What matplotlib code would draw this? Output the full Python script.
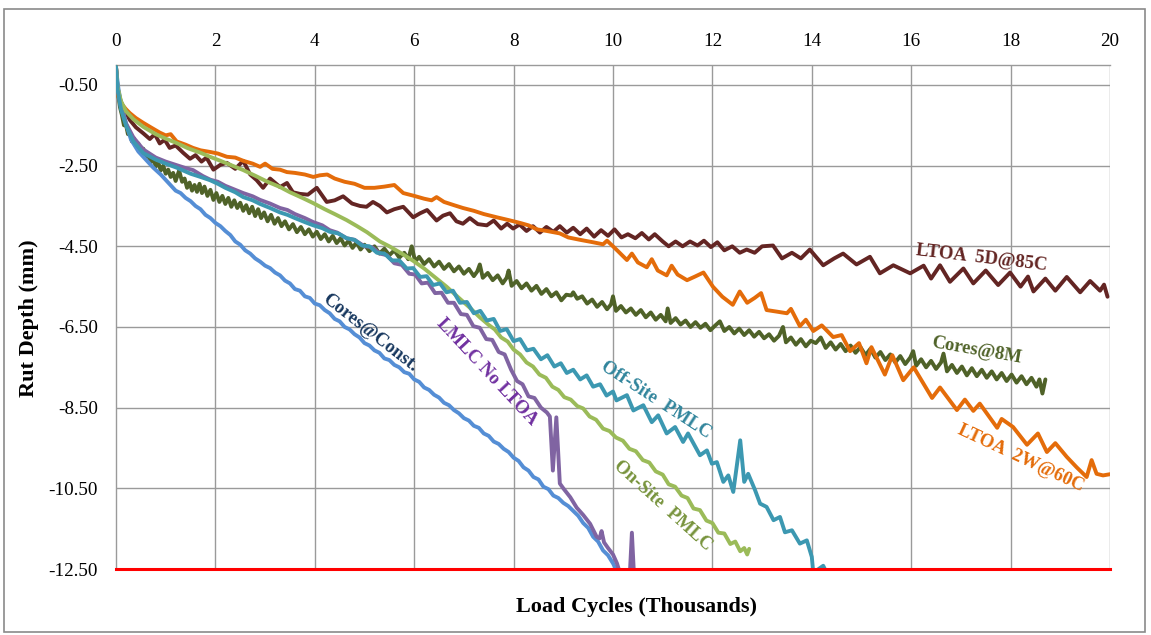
import matplotlib
matplotlib.use("Agg")
import matplotlib.pyplot as plt
from matplotlib.patches import Rectangle

# ---- data: rut depth (mm) vs load cycles (thousands) ----
ltoa_5d_85c = [(0, -0.05), (0.03, -0.55), (0.08, -0.85), (0.15, -1.08), (0.28, -1.37), (0.4, -1.55),
               (0.55, -1.7), (0.68, -1.84), (0.78, -1.72), (0.88, -1.95), (0.98, -1.86), (1.08, -2.06),
               (1.2, -2.0), (1.35, -2.18), (1.49, -2.33), (1.6, -2.24), (1.72, -2.4), (1.82, -2.3),
               (1.96, -2.6), (2.1, -2.48), (2.23, -2.43), (2.4, -2.58), (2.56, -2.38), (2.7, -2.72),
               (2.83, -2.86), (2.96, -3.05), (3.1, -2.82), (3.3, -3.03), (3.44, -2.93), (3.56, -3.16),
               (3.7, -3.2), (3.86, -3.22), (4.04, -3.05), (4.24, -3.4), (4.4, -3.36), (4.57, -3.26),
               (4.75, -3.44), (4.91, -3.5), (5.04, -3.52), (5.17, -3.4), (5.31, -3.5), (5.45, -3.66),
               (5.6, -3.58), (5.78, -3.52), (5.98, -3.78), (6.12, -3.68), (6.26, -3.6), (6.45, -3.86),
               (6.58, -3.74), (6.72, -3.68), (6.85, -3.88), (6.98, -3.94), (7.12, -3.8), (7.28, -3.95),
               (7.46, -3.98), (7.6, -3.86), (7.75, -4.06), (7.87, -3.94), (7.99, -4.06), (8.12, -3.96),
               (8.26, -4.12), (8.39, -4.0), (8.53, -4.16), (8.66, -4.02), (8.8, -4.14), (8.93, -4.0),
               (9.07, -4.16), (9.2, -4.04), (9.34, -4.2), (9.47, -4.06), (9.62, -4.26), (9.76, -4.1),
               (9.9, -4.24), (10.03, -4.08), (10.17, -4.28), (10.3, -4.2), (10.45, -4.3), (10.58, -4.17),
               (10.72, -4.33), (10.84, -4.2), (11.0, -4.38), (11.12, -4.5), (11.26, -4.38), (11.4, -4.5),
               (11.55, -4.38), (11.7, -4.48), (11.83, -4.36), (11.97, -4.52), (12.1, -4.4), (12.24, -4.6),
               (12.4, -4.5), (12.55, -4.66), (12.69, -4.58), (12.85, -4.66), (13.0, -4.5), (13.22, -4.48),
               (13.4, -4.8), (13.6, -4.66), (13.78, -4.8), (13.96, -4.58), (14.23, -4.97), (14.45, -4.8),
               (14.63, -4.68), (14.9, -4.95), (15.17, -4.76), (15.37, -5.17), (15.64, -4.97), (15.98, -5.17),
               (16.25, -4.98), (16.4, -5.3), (16.58, -4.97), (16.78, -5.38), (17.05, -5.05), (17.25, -5.42),
               (17.5, -5.1), (17.75, -5.46), (17.99, -5.15), (18.2, -5.5), (18.35, -5.25), (18.46, -5.62),
               (18.7, -5.3), (18.9, -5.6), (19.13, -5.26), (19.4, -5.64), (19.6, -5.36), (19.8, -5.6),
               (19.88, -5.45), (19.95, -5.75)]

ltoa_2w_60c = [(0, -0.05), (0.02, -0.7), (0.1, -0.95), (0.2, -1.1), (0.28, -1.2), (0.4, -1.32),
               (0.55, -1.44), (0.7, -1.55), (0.88, -1.68), (1.0, -1.75), (1.1, -1.72), (1.22, -1.9),
               (1.4, -1.98), (1.55, -2.06), (1.7, -2.12), (1.89, -2.16), (2.05, -2.2), (2.23, -2.28),
               (2.4, -2.3), (2.56, -2.38), (2.75, -2.45), (2.9, -2.53), (3.0, -2.45), (3.15, -2.58),
               (3.3, -2.6), (3.44, -2.66), (3.6, -2.68), (3.8, -2.72), (3.97, -2.78), (4.1, -2.74),
               (4.25, -2.72), (4.4, -2.82), (4.6, -2.9), (4.8, -2.95), (5.0, -3.05), (5.2, -3.05),
               (5.4, -3.02), (5.6, -2.98), (5.78, -3.18), (6.0, -3.25), (6.2, -3.32), (6.35, -3.36),
               (6.45, -3.28), (6.6, -3.4), (6.8, -3.48), (6.98, -3.55), (7.2, -3.62), (7.4, -3.7),
               (7.66, -3.78), (7.9, -3.85), (8.13, -3.92), (8.3, -3.98), (8.47, -4.08), (8.67, -4.12),
               (8.93, -4.18), (9.1, -4.28), (9.34, -4.34), (9.6, -4.4), (9.8, -4.45), (9.88, -4.36),
               (10.0, -4.5), (10.1, -4.62), (10.28, -4.84), (10.38, -4.68), (10.5, -4.9), (10.68, -5.02),
               (10.78, -4.82), (10.9, -5.1), (11.08, -5.22), (11.18, -4.98), (11.3, -5.2), (11.49, -5.34),
               (11.65, -5.25), (11.82, -5.15), (12.01, -5.5), (12.2, -5.75), (12.41, -5.95), (12.55, -5.62),
               (12.7, -5.9), (12.85, -5.78), (12.98, -5.66), (13.09, -6.08), (13.3, -6.12), (13.5, -6.16),
               (13.58, -6.05), (13.76, -6.48), (13.88, -6.32), (14.03, -6.6), (14.2, -6.46), (14.43, -6.75),
               (14.6, -6.7), (14.77, -7.1), (14.95, -6.9), (15.1, -7.4), (15.2, -7.0), (15.47, -7.68),
               (15.62, -7.2), (15.84, -7.82), (16.05, -7.5), (16.42, -8.26), (16.58, -8.0), (16.92, -8.56),
               (17.08, -8.3), (17.25, -8.58), (17.38, -8.4), (17.73, -9.0), (17.82, -8.78), (18.05, -8.98),
               (18.33, -9.42), (18.55, -9.14), (18.73, -9.6), (18.9, -9.38), (19.13, -9.72), (19.33, -9.98),
               (19.53, -10.22), (19.63, -9.8), (19.73, -10.14), (19.86, -10.18), (20.0, -10.15)]

cores_8m = [(0.0, -0.05), (0.03, -0.6), (0.08, -1.05), (0.12, -1.25), (0.16, -1.5), (0.2, -1.48),
            (0.24, -1.72), (0.28, -1.68), (0.32, -1.9), (0.36, -1.82), (0.4, -2.02), (0.45, -1.95),
            (0.5, -2.18), (0.55, -2.08), (0.6, -2.3), (0.65, -2.2), (0.7, -2.42), (0.75, -2.32),
            (0.8, -2.52), (0.85, -2.42), (0.9, -2.62), (0.95, -2.5), (1.0, -2.7), (1.05, -2.6),
            (1.1, -2.78), (1.15, -2.68), (1.2, -2.88), (1.27, -2.62), (1.33, -2.9), (1.38, -2.82),
            (1.43, -3.05), (1.48, -2.92), (1.53, -3.12), (1.58, -2.98), (1.63, -3.15), (1.68, -2.95),
            (1.73, -3.18), (1.78, -3.02), (1.84, -3.25), (1.9, -3.1), (1.96, -3.35), (2.02, -3.18),
            (2.08, -3.4), (2.14, -3.25), (2.2, -3.45), (2.26, -3.3), (2.32, -3.52), (2.38, -3.36),
            (2.44, -3.55), (2.5, -3.42), (2.56, -3.62), (2.62, -3.48), (2.68, -3.68), (2.74, -3.52),
            (2.8, -3.75), (2.86, -3.58), (2.92, -3.8), (2.98, -3.66), (3.05, -3.88), (3.12, -3.72),
            (3.19, -3.94), (3.26, -3.8), (3.33, -4.0), (3.4, -3.88), (3.48, -4.08), (3.56, -3.95),
            (3.64, -4.15), (3.72, -4.02), (3.8, -4.2), (3.88, -4.08), (3.96, -4.26), (4.04, -4.14),
            (4.12, -4.32), (4.2, -4.2), (4.28, -4.38), (4.36, -4.24), (4.44, -4.42), (4.52, -4.3),
            (4.6, -4.48), (4.68, -4.36), (4.76, -4.54), (4.84, -4.4), (4.92, -4.58), (5.0, -4.46),
            (5.1, -4.62), (5.2, -4.5), (5.3, -4.68), (5.4, -4.56), (5.5, -4.72), (5.6, -4.6),
            (5.7, -4.78), (5.8, -4.66), (5.88, -4.82), (5.95, -4.5), (6.02, -4.88), (6.1, -4.76),
            (6.2, -4.94), (6.3, -4.82), (6.4, -5.0), (6.5, -4.88), (6.6, -5.06), (6.7, -4.94),
            (6.8, -5.12), (6.9, -5.0), (7.0, -5.18), (7.1, -5.06), (7.2, -5.24), (7.27, -5.12),
            (7.32, -4.95), (7.38, -5.28), (7.48, -5.16), (7.58, -5.34), (7.68, -5.22), (7.78, -5.42),
            (7.86, -5.28), (7.9, -5.1), (7.96, -5.48), (8.06, -5.36), (8.16, -5.54), (8.26, -5.42),
            (8.36, -5.6), (8.46, -5.48), (8.56, -5.68), (8.66, -5.56), (8.76, -5.74), (8.86, -5.64),
            (8.96, -5.84), (9.06, -5.7), (9.16, -5.72), (9.2, -5.64), (9.28, -5.8), (9.38, -5.74),
            (9.48, -5.92), (9.58, -5.82), (9.68, -6.0), (9.78, -5.88), (9.88, -6.06), (9.96, -5.94),
            (10.0, -5.74), (10.06, -6.1), (10.16, -5.98), (10.26, -6.14), (10.36, -6.04), (10.46, -6.2),
            (10.56, -6.08), (10.66, -6.26), (10.76, -6.14), (10.86, -6.32), (10.96, -6.2), (11.06, -6.36),
            (11.1, -6.04), (11.16, -6.4), (11.26, -6.28), (11.36, -6.44), (11.46, -6.34), (11.56, -6.5),
            (11.66, -6.38), (11.76, -6.52), (11.86, -6.42), (11.96, -6.58), (12.06, -6.46), (12.15, -6.36),
            (12.24, -6.6), (12.34, -6.5), (12.44, -6.66), (12.54, -6.54), (12.64, -6.7), (12.74, -6.58),
            (12.84, -6.74), (12.94, -6.62), (13.04, -6.78), (13.14, -6.68), (13.24, -6.84), (13.34, -6.72),
            (13.42, -6.5), (13.48, -6.88), (13.58, -6.76), (13.68, -6.94), (13.78, -6.8), (13.88, -6.98),
            (13.98, -6.84), (14.08, -6.9), (14.18, -6.76), (14.28, -7.02), (14.38, -6.88), (14.48, -7.06),
            (14.58, -6.92), (14.68, -7.1), (14.78, -6.96), (14.88, -7.14), (14.98, -7.0), (15.08, -7.2),
            (15.18, -7.04), (15.28, -7.26), (15.38, -7.12), (15.48, -7.32), (15.58, -7.18), (15.68, -7.38),
            (15.78, -7.22), (15.88, -7.42), (15.98, -7.26), (16.04, -7.1), (16.1, -7.46), (16.2, -7.3),
            (16.3, -7.5), (16.4, -7.34), (16.5, -7.54), (16.6, -7.38), (16.65, -7.16), (16.72, -7.6),
            (16.82, -7.44), (16.92, -7.64), (17.02, -7.48), (17.12, -7.7), (17.22, -7.52), (17.32, -7.72),
            (17.42, -7.56), (17.52, -7.76), (17.62, -7.6), (17.72, -7.8), (17.82, -7.64), (17.92, -7.84),
            (18.02, -7.68), (18.12, -7.88), (18.22, -7.72), (18.32, -7.92), (18.42, -7.76), (18.52, -7.98),
            (18.58, -7.8), (18.64, -8.15), (18.7, -7.8)]

cores_const = [(0, -0.1), (0.05, -0.6), (0.1, -0.95), (0.2, -1.45), (0.3, -1.85), (0.45, -2.15),
               (0.6, -2.35), (0.75, -2.55), (0.9, -2.72), (1.05, -2.92), (1.2, -3.12), (1.3, -3.18),
               (1.4, -3.3), (1.5, -3.38), (1.6, -3.5), (1.7, -3.58), (1.8, -3.72), (1.9, -3.8),
               (2.0, -3.92), (2.1, -4.0), (2.2, -4.12), (2.3, -4.22), (2.4, -4.38), (2.5, -4.46),
               (2.6, -4.6), (2.7, -4.68), (2.8, -4.8), (2.9, -4.88), (3.0, -4.98), (3.1, -5.04),
               (3.2, -5.15), (3.3, -5.22), (3.4, -5.35), (3.5, -5.42), (3.6, -5.56), (3.7, -5.6),
               (3.8, -5.74), (3.9, -5.78), (4.0, -5.92), (4.1, -5.96), (4.2, -6.08), (4.3, -6.16),
               (4.4, -6.3), (4.5, -6.36), (4.6, -6.5), (4.7, -6.56), (4.8, -6.68), (4.9, -6.76),
               (5.0, -6.9), (5.1, -6.96), (5.2, -7.08), (5.3, -7.14), (5.4, -7.28), (5.5, -7.32),
               (5.6, -7.44), (5.7, -7.5), (5.8, -7.62), (5.9, -7.66), (6.0, -7.8), (6.1, -7.86),
               (6.2, -8.0), (6.3, -8.06), (6.4, -8.18), (6.5, -8.25), (6.6, -8.38), (6.7, -8.44),
               (6.8, -8.56), (6.9, -8.64), (7.0, -8.76), (7.1, -8.82), (7.2, -8.95), (7.3, -9.0),
               (7.4, -9.14), (7.5, -9.2), (7.6, -9.34), (7.7, -9.4), (7.8, -9.52), (7.9, -9.6),
               (8.0, -9.74), (8.1, -9.82), (8.2, -9.98), (8.3, -10.06), (8.4, -10.22), (8.5, -10.28),
               (8.6, -10.46), (8.7, -10.52), (8.8, -10.68), (8.9, -10.74), (9.0, -10.86), (9.1, -10.94),
               (9.2, -11.06), (9.3, -11.18), (9.4, -11.36), (9.5, -11.48), (9.6, -11.7), (9.7, -11.82),
               (9.8, -12.04), (9.9, -12.16), (10.0, -12.36), (10.1, -12.6)]

lmlc_no_ltoa = [(0, -0.05), (0.03, -0.6), (0.1, -1.05), (0.2, -1.45), (0.35, -1.8), (0.55, -2.1),
                (0.8, -2.3), (1.0, -2.4), (1.2, -2.48), (1.4, -2.56), (1.55, -2.61), (1.75, -2.76),
                (1.9, -2.85), (2.05, -2.9), (2.2, -3.0), (2.4, -3.1), (2.56, -3.18), (2.75, -3.26),
                (2.9, -3.35), (3.1, -3.44), (3.3, -3.55), (3.45, -3.6), (3.6, -3.7), (3.8, -3.8),
                (3.97, -3.9), (4.15, -3.98), (4.3, -4.1), (4.45, -4.16), (4.64, -4.3), (4.8, -4.34),
                (5.0, -4.5), (5.15, -4.52), (5.31, -4.68), (5.45, -4.72), (5.6, -4.92), (5.75, -4.96),
                (5.9, -5.18), (6.02, -5.2), (6.15, -5.42), (6.28, -5.4), (6.42, -5.66), (6.55, -5.65),
                (6.68, -5.9), (6.8, -5.9), (6.94, -6.18), (7.06, -6.2), (7.19, -6.48), (7.32, -6.52),
                (7.45, -6.8), (7.57, -6.82), (7.7, -7.12), (7.82, -7.18), (7.95, -7.56), (8.07, -7.84),
                (8.18, -7.92), (8.3, -8.22), (8.42, -8.26), (8.55, -8.5), (8.67, -8.62), (8.73, -8.72),
                (8.79, -10.06), (8.86, -8.74), (8.93, -10.38), (9.0, -10.5), (9.14, -10.72), (9.27, -10.98),
                (9.4, -11.16), (9.54, -11.38), (9.67, -11.7), (9.73, -11.74), (9.77, -11.56), (9.82, -11.84),
                (9.9, -11.98), (10.0, -12.14), (10.08, -12.36), (10.14, -12.6), (10.34, -12.6),
                (10.38, -11.6), (10.42, -12.6)]

offsite_pmlc = [(0, -0.05), (0.03, -0.6), (0.1, -1.1), (0.2, -1.5), (0.35, -1.9), (0.55, -2.19),
                (0.8, -2.35), (1.0, -2.45), (1.22, -2.55), (1.5, -2.7), (1.7, -2.78), (1.89, -2.86),
                (2.05, -2.95), (2.2, -3.05), (2.4, -3.16), (2.56, -3.28), (2.75, -3.36), (2.9, -3.45),
                (3.1, -3.55), (3.3, -3.66), (3.45, -3.72), (3.6, -3.8), (3.8, -3.9), (3.97, -3.98),
                (4.15, -4.05), (4.3, -4.14), (4.47, -4.18), (4.64, -4.3), (4.8, -4.34), (4.95, -4.48),
                (5.1, -4.5), (5.25, -4.66), (5.4, -4.68), (5.55, -4.85), (5.7, -4.85), (5.85, -5.05),
                (5.98, -5.04), (6.12, -5.26), (6.25, -5.24), (6.38, -5.46), (6.52, -5.42), (6.65, -5.64),
                (6.78, -5.6), (6.92, -5.9), (7.06, -5.88), (7.2, -6.16), (7.33, -6.1), (7.46, -6.34),
                (7.6, -6.3), (7.73, -6.6), (7.86, -6.55), (8.0, -6.85), (8.13, -6.8), (8.27, -7.08),
                (8.4, -7.04), (8.55, -7.3), (8.68, -7.2), (8.82, -7.48), (8.95, -7.4), (9.07, -7.64),
                (9.2, -7.56), (9.34, -7.8), (9.47, -7.7), (9.6, -7.98), (9.74, -7.92), (9.87, -8.2),
                (10.0, -8.1), (10.07, -8.32), (10.28, -8.19), (10.41, -8.57), (10.61, -8.44), (10.78, -8.86),
                (10.91, -8.69), (11.08, -9.14), (11.25, -8.98), (11.41, -9.35), (11.51, -9.14), (11.75, -9.68),
                (11.89, -9.56), (11.99, -9.89), (12.09, -9.85), (12.22, -10.34), (12.32, -10.18),
                (12.42, -10.59), (12.56, -9.31), (12.64, -10.34), (12.72, -10.14), (12.86, -10.55),
                (12.96, -10.88), (13.09, -10.96), (13.23, -11.29), (13.36, -11.21), (13.46, -11.59),
                (13.6, -11.54), (13.76, -11.87), (13.9, -11.79), (14.0, -12.2), (14.03, -12.6),
                (14.16, -12.48), (14.23, -12.42), (14.3, -12.6)]

onsite_pmlc = [(0, -0.05), (0.03, -0.55), (0.1, -0.9), (0.2, -1.15), (0.35, -1.35), (0.55, -1.54),
               (0.8, -1.72), (1.0, -1.83), (1.22, -1.94), (1.45, -2.07), (1.7, -2.18), (1.89, -2.28),
               (2.1, -2.38), (2.3, -2.48), (2.56, -2.61), (2.8, -2.75), (3.05, -2.9), (3.3, -3.03),
               (3.5, -3.16), (3.75, -3.3), (3.97, -3.43), (4.2, -3.58), (4.4, -3.7), (4.64, -3.85),
               (4.85, -4.0), (5.05, -4.15), (5.31, -4.38), (5.5, -4.5), (5.75, -4.68), (5.98, -4.86),
               (6.2, -5.05), (6.4, -5.25), (6.65, -5.5), (6.9, -5.78), (7.1, -6.0), (7.32, -6.26),
               (7.5, -6.45), (7.62, -6.56), (7.75, -6.76), (7.88, -6.86), (8.0, -7.06), (8.13, -7.18),
               (8.26, -7.38), (8.39, -7.48), (8.52, -7.68), (8.65, -7.76), (8.78, -7.98), (8.9, -8.06),
               (9.02, -8.24), (9.15, -8.3), (9.28, -8.46), (9.4, -8.52), (9.53, -8.72), (9.66, -8.8),
               (9.8, -9.02), (9.93, -9.08), (10.06, -9.24), (10.2, -9.32), (10.33, -9.52), (10.46, -9.58),
               (10.6, -9.8), (10.73, -9.86), (10.86, -10.08), (11.0, -10.16), (11.12, -10.4), (11.25, -10.46),
               (11.38, -10.68), (11.5, -10.74), (11.62, -11.0), (11.75, -11.04), (11.88, -11.3), (12.0, -11.36),
               (12.12, -11.6), (12.24, -11.62), (12.36, -11.88), (12.46, -11.82), (12.56, -12.06),
               (12.64, -11.98), (12.7, -12.14), (12.74, -12.0)]

failure_x = [0, 20]
failure_y = [-12.5, -12.5]

x_ticks = [0, 2, 4, 6, 8, 10, 12, 14, 16, 18, 20]
y_ticks = [-12.5, -10.5, -8.5, -6.5, -4.5, -2.5, -0.5]

# series: (data, line colour, label text, label colour, label x, label y, label angle)
series = [
    (ltoa_5d_85c, "#632523", "LTOA  5D@85C", "#632523", 17.42, -4.79, -6.6),
    (cores_8m, "#4F6228", "Cores@8M", "#4F6228", 17.32, -7.08, -10),
    (ltoa_2w_60c, "#E46C0A", "LTOA  2W@60C", "#E46C0A", 18.21, -9.76, -25),
    (cores_const, "#558ED5", "Cores@Const.", "#17375E", 5.11, -6.65, -38),
    (lmlc_no_ltoa, "#8064A2", "LMLC No LTOA", "#7030A0", 7.46, -7.62, -47),
    (onsite_pmlc, "#9BBB59", "On-Site  PMLC", "#77933C", 11.0, -10.92, -42),
    (offsite_pmlc, "#3C98B1", "Off-Site  PMLC", "#31859C", 10.87, -8.32, -33),
]

serif = "Liberation Serif"
W, H = 1151, 635
fig = plt.figure(figsize=(W / 100, H / 100), dpi=100)
fig.patch.set_facecolor("white")

# outer chart frame
fig.patches.append(Rectangle((4 / W, 3 / H), 1141 / W, 623 / H, transform=fig.transFigure,
                             fill=False, edgecolor="#8A8A8A", linewidth=1.2))

ax = fig.add_axes([116 / W, 1 - 569 / H, 994 / W, 504.2 / H])
ax.set_xlim(0, 20)
ax.set_ylim(-12.5, 0)

grid_c = "#9A9A9A"
for xv in x_ticks[1:]:
    ax.axvline(xv, color=grid_c, lw=1.0, zorder=1)
for yv in y_ticks[1:]:
    ax.axhline(yv, color=grid_c, lw=1.0, zorder=1)

for data, color, text, tcolor, tx, ty, ang in series:
    xs = [p[0] for p in data]
    ys = [p[1] for p in data]
    ax.plot(xs, ys, color=color, lw=2.8, solid_joinstyle="round", solid_capstyle="round", zorder=3)
    ax.text(tx, ty, text, color=tcolor, fontsize=13.5, fontweight="bold", family=serif,
            rotation=ang, rotation_mode="anchor", ha="center", va="center", zorder=5)

ax.plot(failure_x, failure_y, color="#FF0000", lw=2.2, clip_on=False, zorder=4)

ax.xaxis.tick_top()
ax.set_xticks(x_ticks)
ax.set_xticklabels([str(v) for v in x_ticks])
ax.set_yticks(y_ticks)
ax.set_yticklabels([f"{v:.2f}" for v in y_ticks])
ax.tick_params(axis="x", length=0, pad=11, labelsize=13.8)
ax.tick_params(axis="y", length=0, pad=13, labelsize=13.8)
for lab in ax.get_xticklabels() + ax.get_yticklabels():
    lab.set_family(serif)

for side in ("left", "top"):
    ax.spines[side].set_color(grid_c)
    ax.spines[side].set_linewidth(1.0)
ax.spines["right"].set_visible(False)
ax.spines["bottom"].set_visible(False)

fig.text(636 / W, 1 - 607 / H, "Load Cycles (Thousands)", family=serif, fontweight="bold",
         fontsize=16, ha="center", va="center")
fig.text(29 / W, 1 - 318 / H, "Rut Depth (mm)", family=serif, fontweight="bold",
         fontsize=16, rotation=90, ha="center", va="center")

fig.savefig("out.png", dpi=100, facecolor="white")
